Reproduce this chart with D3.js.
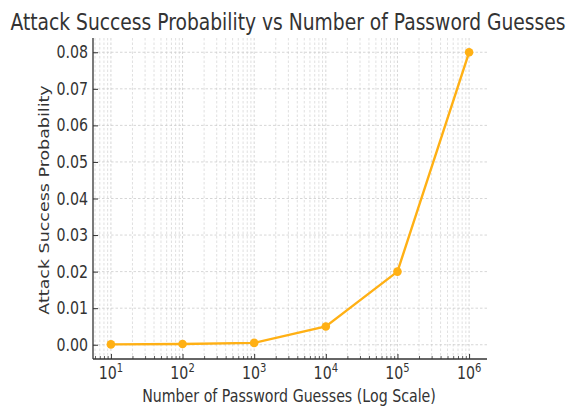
<!DOCTYPE html>
<html>
<head>
<meta charset="utf-8">
<script src="https://cdn.jsdelivr.net/npm/d3@7"></script>
<style>
  body { margin: 0; background: #fff; }
  text { font-family: "DejaVu Sans", sans-serif; fill: #333; }
</style>
</head>
<body>
<div id="vis"></div>
<script>
// data
const guesses = [1e1, 1e2, 1e3, 1e4, 1e5, 1e6]
const probability = [0.0001, 0.0002, 0.0005, 0.005, 0.02, 0.08]
const yTicks = [0, 0.01, 0.02, 0.03, 0.04, 0.05, 0.06, 0.07, 0.08]
const xTicks = [1e1, 1e2, 1e3, 1e4, 1e5, 1e6]
const xTickExp = ["1", "2", "3", "4", "5", "6"]

const config = {}
config.width = 569
config.height = 407
config.color = "#FFB014"
config.left = 93
config.right = 487
config.top = 38
config.bottom = 359
config.stretch = 1.23   // the picture's glyphs are taller than wide

let svg = d3.select("#vis").append("svg")
    .attr("width", config.width)
    .attr("height", config.height)

let x = d3.scaleLog()
    .domain([Math.pow(10, 0.75), Math.pow(10, 6.25)])
    .range([config.left, config.right])

let y = d3.scaleLinear()
    .domain([-0.0039, 0.0839])
    .range([config.bottom, config.top])

// stretched text
function label(parent, px, py, size, anchor, rot) {
    return parent.append("text")
        .attr("transform", `translate(${px},${py}) scale(1,${config.stretch})` + (rot ? ` rotate(${rot})` : ""))
        .attr("text-anchor", anchor)
        .attr("font-size", size)
}

// minor x positions (2..9 per decade)
let minor = []
for (let e = 0; e <= 6; e++) {
    for (let m = 2; m <= 9; m++) {
        let v = m * Math.pow(10, e)
        if (v > x.domain()[0] && v < x.domain()[1]) minor.push(v)
    }
}

let grid = svg.append("g")
    .attr("stroke", "#cccccc")
    .attr("stroke-width", 0.8)
    .attr("stroke-dasharray", "2.5,2")

grid.selectAll("line.xminor")
    .data(minor)
    .join("line")
    .attr("x1", d => x(d)).attr("x2", d => x(d))
    .attr("y1", config.top).attr("y2", config.bottom)
    .attr("stroke", "#d8d8d8")

grid.selectAll("line.xmajor")
    .data(xTicks)
    .join("line")
    .attr("x1", d => x(d)).attr("x2", d => x(d))
    .attr("y1", config.top).attr("y2", config.bottom)

grid.selectAll("line.ymajor")
    .data(yTicks)
    .join("line")
    .attr("x1", config.left).attr("x2", config.right)
    .attr("y1", d => y(d)).attr("y2", d => y(d))

// axes with inward ticks
let xAxis = svg.append("g")
    .attr("transform", `translate(0,${config.bottom})`)
    .call(d3.axisTop(x).tickValues(xTicks).tickFormat("").tickSize(5).tickSizeOuter(0))
xAxis.select(".domain").remove()
xAxis.selectAll("line").attr("stroke", "#333").attr("stroke-width", 1)

let xMinorAxis = svg.append("g")
    .attr("transform", `translate(0,${config.bottom})`)
    .call(d3.axisTop(x).tickValues(minor).tickFormat("").tickSize(3).tickSizeOuter(0))
xMinorAxis.select(".domain").remove()
xMinorAxis.selectAll("line").attr("stroke", "#333").attr("stroke-width", 0.8)

let xLabels = svg.append("g")
xTicks.forEach((t, i) => {
    let tx = label(xLabels, x(t), 379, 14.2, "middle")
    tx.append("tspan").text("10")
    tx.append("tspan").text(xTickExp[i]).attr("font-size", 10).attr("dy", -6)
})

let yAxis = svg.append("g")
    .attr("transform", `translate(${config.left},0)`)
    .call(d3.axisRight(y).tickValues(yTicks).tickFormat("").tickSize(5).tickSizeOuter(0))
yAxis.select(".domain").remove()
yAxis.selectAll("line").attr("stroke", "#333")

let yLabels = svg.append("g")
yTicks.forEach(t => {
    label(yLabels, config.left - 5, y(t) + 6, 14.2, "end").text(d3.format(".2f")(t))
})

// spines
svg.append("line")
    .attr("x1", config.left).attr("x2", config.left)
    .attr("y1", config.top).attr("y2", config.bottom)
    .attr("stroke", "#333").attr("stroke-width", 1.3)
svg.append("line")
    .attr("x1", config.left).attr("x2", config.right)
    .attr("y1", config.bottom).attr("y2", config.bottom)
    .attr("stroke", "#333").attr("stroke-width", 1.3)

// series
let pts = guesses.map((g, i) => ({g: g, p: probability[i]}))

svg.append("path")
    .datum(pts)
    .attr("fill", "none")
    .attr("stroke", config.color)
    .attr("stroke-width", 2.4)
    .attr("d", d3.line().x(d => x(d.g)).y(d => y(d.p)))

svg.append("g")
    .selectAll("circle")
    .data(pts)
    .join("circle")
    .attr("cx", d => x(d.g))
    .attr("cy", d => y(d.p))
    .attr("r", 4.3)
    .attr("fill", config.color)

// titles
label(svg, 288, 30, 18.7, "middle")
    .text("Attack Success Probability vs Number of Password Guesses")

label(svg, 289, 402, 14.2, "middle")
    .text("Number of Password Guesses (Log Scale)")

label(svg, 49, 200, 14.2, "middle", -90)
    .text("Attack Success Probability")
</script>
</body>
</html>
